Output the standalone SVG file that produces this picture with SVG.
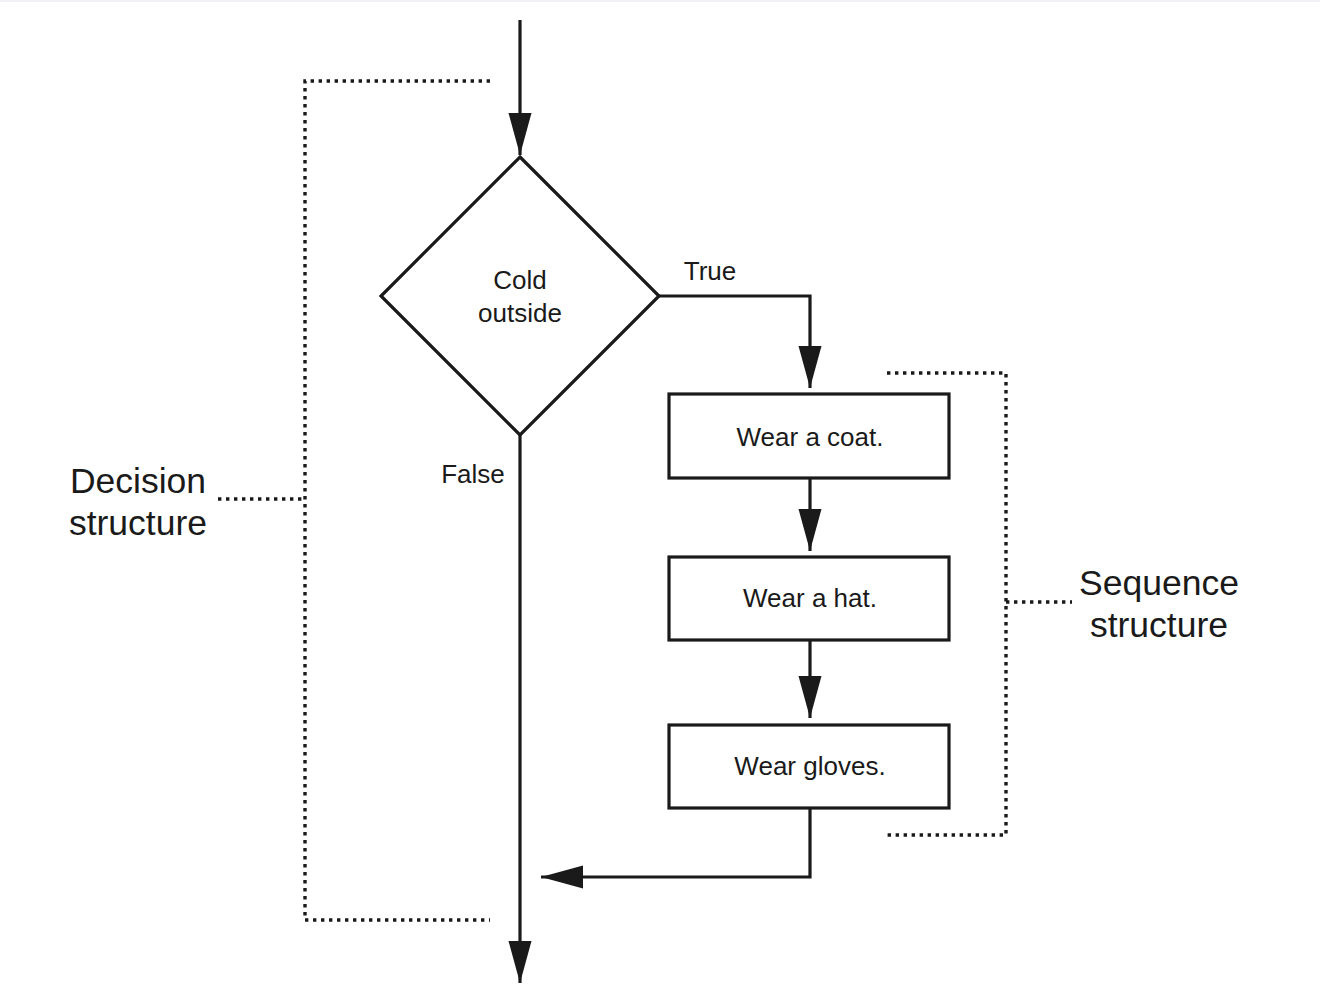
<svg xmlns="http://www.w3.org/2000/svg" width="1320" height="1000" viewBox="0 0 1320 1000">
<style>
.ln{fill:none;stroke:#1a1a1a;stroke-width:3.2}
.box{fill:#fff;stroke:#1a1a1a;stroke-width:3.2}
.dot{fill:none;stroke:#1a1a1a;stroke-width:3.4;stroke-dasharray:3.4 4.6}
.t{font-family:"Liberation Sans",Arial,sans-serif;font-size:26px;fill:#1a1a1a;text-anchor:middle}
.big{font-family:"Liberation Sans",Arial,sans-serif;font-size:35.5px;fill:#1a1a1a;text-anchor:middle}
</style>
<defs>
<marker id="ah" markerUnits="userSpaceOnUse" markerWidth="44" markerHeight="24" refX="42" refY="11.5" orient="auto">
<path d="M0,0 L42,11.5 L0,23 Z" fill="#1a1a1a"/>
</marker>
</defs>
<rect x="0" y="0" width="1320" height="1000" fill="#fff"/>
<line x1="0" y1="1" x2="1320" y2="1" stroke="#e4e2ea" stroke-width="1"/>
<g id="connectors">
<line class="ln" x1="520" y1="20" x2="520" y2="155" marker-end="url(#ah)"/>
<polyline class="ln" points="659,296 810,296 810,388" marker-end="url(#ah)"/>
<line class="ln" x1="810" y1="478" x2="810" y2="551" marker-end="url(#ah)"/>
<line class="ln" x1="810" y1="640" x2="810" y2="718" marker-end="url(#ah)"/>
<polyline class="ln" points="810,808 810,877 541,877" marker-end="url(#ah)"/>
<line class="ln" x1="520" y1="435" x2="520" y2="983" marker-end="url(#ah)"/>
<text class="t" x="710" y="280">True</text>
<text class="t" x="473" y="483">False</text>
</g>
<g id="decision">
<polygon class="box" points="520,157 659,296 520,435 381,296"/>
<text class="t" x="520" y="289">Cold</text>
<text class="t" x="520" y="322">outside</text>
</g>
<g id="coat">
<rect class="box" x="669" y="394" width="280" height="84"/>
<text class="t" x="810" y="446">Wear a coat.</text>
</g>
<g id="hat">
<rect class="box" x="669" y="557" width="280" height="83"/>
<text class="t" x="810" y="607">Wear a hat.</text>
</g>
<g id="gloves">
<rect class="box" x="669" y="725" width="280" height="83"/>
<text class="t" x="810" y="775">Wear gloves.</text>
</g>
<g id="decision-structure">
<polyline class="dot" points="490,81 305,81 305,920 490,920"/>
<line class="dot" x1="218" y1="499" x2="305" y2="499"/>
<text class="big" x="138" y="493">Decision</text>
<text class="big" x="138" y="535">structure</text>
</g>
<g id="sequence-structure">
<polyline class="dot" points="887,373 1006,373 1006,835 887,835"/>
<line class="dot" x1="1006" y1="602" x2="1072" y2="602"/>
<text class="big" x="1159" y="595">Sequence</text>
<text class="big" x="1159" y="637">structure</text>
</g>
</svg>
